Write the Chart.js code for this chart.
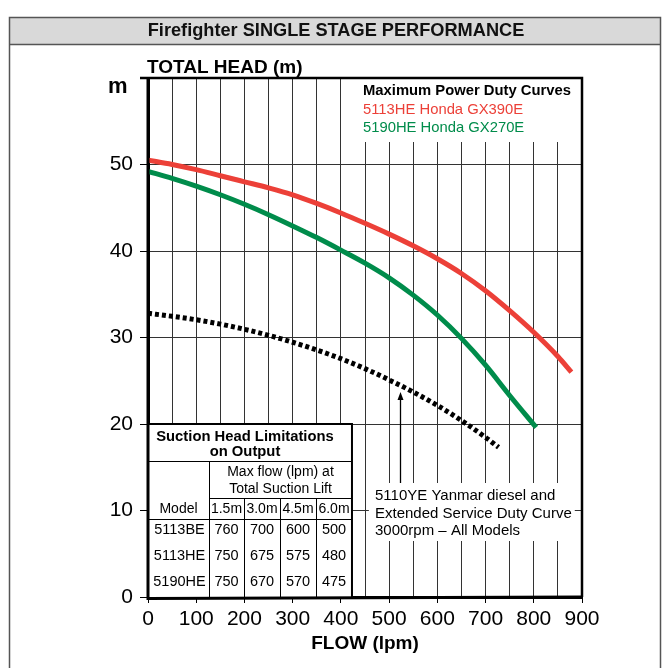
<!DOCTYPE html>
<html><head><meta charset="utf-8">
<script src="https://cdn.jsdelivr.net/npm/chart.js@4"></script>
<style>html,body{margin:0;padding:0;background:#fff}canvas{display:block}</style>
</head><body>
<canvas id="c" width="664" height="668"></canvas>
<script>
// ---------- data ----------
const chartTitle = 'Firefighter SINGLE STAGE PERFORMANCE';
const yAxisTitle = 'TOTAL HEAD (m)';
const yUnit = 'm';
const xAxisTitle = 'FLOW (lpm)';

const flowRed  = [0, 50, 100, 150, 200, 250, 300, 350, 400, 450, 500, 550, 600, 650, 700, 750, 800, 850, 878];
const headRed  = [50.5, 50.0, 49.4, 48.7, 48.0, 47.3, 46.5, 45.5, 44.4, 43.2, 41.95, 40.6, 39.1, 37.4, 35.4, 33.1, 30.6, 27.8, 26.0];

const flowGreen = [0, 50, 100, 150, 200, 250, 300, 350, 400, 450, 500, 550, 600, 650, 700, 750, 805];
const headGreen = [49.2, 48.4, 47.5, 46.5, 45.4, 44.2, 42.9, 41.55, 40.1, 38.6, 36.9, 34.9, 32.6, 29.9, 26.8, 23.3, 19.6];

const flowDiesel = [0, 50, 100, 150, 200, 250, 300, 350, 400, 450, 500, 550, 600, 650, 700, 727];
const headDiesel = [32.8, 32.45, 32.05, 31.55, 30.95, 30.25, 29.45, 28.55, 27.55, 26.4, 25.1, 23.7, 22.15, 20.4, 18.45, 17.3];

const legendTitle = 'Maximum Power Duty Curves';
const legendRed = '5113HE Honda GX390E';
const legendGreen = '5190HE Honda GX270E';
const dieselNote = ['5110YE Yanmar diesel and', 'Extended Service Duty Curve', '3000rpm \u2013 All Models'];
const dieselArrowFlow = 523;
const dieselArrowHead = 23.7;

const tableTitle = ['Suction Head Limitations', 'on Output'];
const tableSubTitle = ['Max flow (lpm) at', 'Total Suction Lift'];
const tableModelHeader = 'Model';
const tableLifts = ['1.5m', '3.0m', '4.5m', '6.0m'];
const tableModels = ['5113BE', '5113HE', '5190HE'];
const tableFlows = [[760, 700, 600, 500], [750, 675, 575, 480], [750, 670, 570, 475]];

// ---------- styling ----------
const FONT = "'Liberation Sans', Arial, Helvetica, sans-serif";
const RED = '#ec4038';
const GREEN = '#008c4b';
Chart.defaults.font.family = FONT;
Chart.defaults.color = '#000';

const toXY = (xs, ys) => xs.map((x, i) => ({x, y: ys[i]}));

const deco = {
  id: 'deco',
  beforeDraw(chart) {
    const c = chart.ctx;
    c.save();
    c.fillStyle = '#fff';
    c.fillRect(0, 0, chart.width, chart.height);
    // outer frame + title band
    c.fillStyle = '#d9d9d9';
    c.fillRect(9.5, 17.5, 651, 27);
    c.strokeStyle = '#555';
    c.lineWidth = 1.5;
    c.strokeRect(9.5, 17.5, 651, 700);
    c.beginPath(); c.moveTo(9.5, 44.5); c.lineTo(660.5, 44.5); c.stroke();
    c.fillStyle = '#111';
    c.font = 'bold 18.2px ' + FONT;
    c.textAlign = 'center'; c.textBaseline = 'middle';
    c.fillText(chartTitle, 336, 31);
    c.restore();
  },
  beforeDatasetsDraw(chart) {
    const c = chart.ctx, xs = chart.scales.x, ys = chart.scales.y;
    const ca = chart.chartArea;
    c.save();
    // legend box
    const lx = xs.getPixelForValue(405);
    c.fillStyle = '#fff';
    c.fillRect(lx, ca.top, ca.right - lx, 64);
    c.fillStyle = '#000';
    c.textAlign = 'left'; c.textBaseline = 'middle';
    c.font = 'bold 14.8px ' + FONT;
    c.fillText(legendTitle, 363, 91);
    c.font = '14.8px ' + FONT;
    c.fillStyle = RED; c.fillText(legendRed, 363, 110);
    c.fillStyle = GREEN; c.fillText(legendGreen, 363, 128);

    // diesel note box
    const nx0 = xs.getPixelForValue(458), nx1 = xs.getPixelForValue(885);
    const ny0 = 483, ny1 = 541;
    c.fillStyle = '#fff';
    c.fillRect(nx0, ny0, nx1 - nx0, ny1 - ny0);
    c.fillStyle = '#000';
    c.font = '15px ' + FONT;
    dieselNote.forEach((t, i) => c.fillText(t, 375, 496 + i * 17.5));
    // arrow
    const ax = Math.round(xs.getPixelForValue(dieselArrowFlow)) + 0.5;
    const ay = ys.getPixelForValue(dieselArrowHead);
    c.strokeStyle = '#000'; c.lineWidth = 1.3;
    c.beginPath(); c.moveTo(ax, ny0); c.lineTo(ax, ay + 6); c.stroke();
    c.beginPath(); c.moveTo(ax, ay); c.lineTo(ax - 3, ay + 8); c.lineTo(ax + 3, ay + 8); c.closePath(); c.fill();

    // table
    const L = ca.left, R = xs.getPixelForValue(423), T = ys.getPixelForValue(20), B = ca.bottom;
    c.fillStyle = '#fff';
    c.fillRect(L, T, R - L, B - T);
    c.strokeStyle = '#000';
    c.lineWidth = 2;
    c.beginPath(); c.moveTo(L, T); c.lineTo(R, T); c.lineTo(R, B); c.stroke();
    c.lineWidth = 1;
    const colX = [L + 61, L + 96, L + 132, L + 168, R];
    const hl = (y, x0, x1) => { c.beginPath(); c.moveTo(x0, Math.round(y) + 0.5); c.lineTo(x1, Math.round(y) + 0.5); c.stroke(); };
    const vl = (x, y0, y1) => { c.beginPath(); c.moveTo(Math.round(x) + 0.5, y0); c.lineTo(Math.round(x) + 0.5, y1); c.stroke(); };
    hl(T + 37, L, R);
    hl(T + 74, colX[0], R);
    hl(T + 95, L, R);
    vl(colX[0], T + 37, B);
    for (let i = 1; i < 4; i++) vl(colX[i], T + 74, B);
    c.fillStyle = '#000';
    c.textAlign = 'center';
    c.font = 'bold 14.8px ' + FONT;
    c.fillText(tableTitle[0], L + 97, T + 13);
    c.fillText(tableTitle[1], L + 97, T + 28);
    c.font = '14px ' + FONT;
    c.fillText(tableSubTitle[0], (colX[0] + R) / 2, T + 48);
    c.fillText(tableSubTitle[1], (colX[0] + R) / 2, T + 65);
    c.fillText(tableModelHeader, (L + colX[0]) / 2, T + 85);
    tableLifts.forEach((t, i) => c.fillText(t, (colX[i] + colX[i + 1]) / 2, T + 85));
    c.font = '14.5px ' + FONT;
    tableModels.forEach((m, r) => {
      const y = T + 106 + r * 26;
      c.fillText(m, (L + colX[0]) / 2 + 1, y);
      tableFlows[r].forEach((v, i) => c.fillText(String(v), (colX[i] + colX[i + 1]) / 2, y));
    });
    c.restore();
  },
  afterDatasetsDraw(chart) {
    const c = chart.ctx, ca = chart.chartArea;
    c.save();
    c.strokeStyle = '#000';
    c.lineWidth = 2.5;
    c.beginPath(); c.moveTo(ca.left - 8, ca.top); c.lineTo(ca.right, ca.top); c.lineTo(ca.right, ca.bottom); c.stroke();
    c.lineWidth = 3;
    c.beginPath(); c.moveTo(ca.left, ca.top); c.lineTo(ca.left, ca.bottom + 1.5); c.lineTo(ca.right + 1, ca.bottom + 1.5 - 1.5); c.stroke();
    c.fillStyle = '#000';
    c.textAlign = 'left'; c.textBaseline = 'alphabetic';
    c.font = 'bold 19px ' + FONT;
    c.fillText(yAxisTitle, 147, 73);
    c.font = 'bold 22px ' + FONT;
    c.fillText(yUnit, 108, 93);
    c.textAlign = 'center'; c.textBaseline = 'middle';
    c.font = 'bold 19px ' + FONT;
    c.fillText(xAxisTitle, (ca.left + ca.right) / 2, 644);
    c.restore();
  }
};

new Chart(document.getElementById('c'), {
  type: 'line',
  data: {
    datasets: [
      { label: legendRed, data: toXY(flowRed, headRed), borderColor: RED, borderWidth: 5, pointRadius: 0, cubicInterpolationMode: 'monotone', borderCapStyle: 'butt' },
      { label: legendGreen, data: toXY(flowGreen, headGreen), borderColor: GREEN, borderWidth: 5, pointRadius: 0, cubicInterpolationMode: 'monotone', borderCapStyle: 'butt' },
      { label: dieselNote.join(' '), data: toXY(flowDiesel, headDiesel), borderColor: '#000', borderWidth: 5, borderDash: [4, 3], pointRadius: 0, cubicInterpolationMode: 'monotone', borderCapStyle: 'butt' }
    ]
  },
  options: {
    responsive: false,
    devicePixelRatio: 1,
    animation: false,
    layout: { padding: { left: 0, top: 78, right: 82, bottom: 0 } },
    plugins: { legend: { display: false }, tooltip: { enabled: false }, title: { display: false } },
    scales: {
      x: {
        type: 'linear', min: 0, max: 900,
        afterFit: s => { s.height = 71; },
        ticks: { stepSize: 50, autoSkip: false, maxRotation: 0, padding: 4, font: { size: 21 }, color: '#000',
          callback: v => (v % 100 === 0 ? String(v) : '') },
        grid: { color: '#333', lineWidth: 1, tickLength: 6,
          tickColor: ctx => (ctx.tick && ctx.tick.value % 100 === 0 ? '#000' : 'rgba(0,0,0,0)') },
        border: { color: '#000', width: 3 }
      },
      y: {
        min: 0, max: 60,
        afterFit: s => { s.width = 148; },
        ticks: { stepSize: 10, padding: 7, font: { size: 21 }, color: '#000',
          callback: v => (v === 60 ? '' : String(v)) },
        grid: { color: '#333', lineWidth: 1, tickLength: 8, tickColor: '#000' },
        border: { color: '#000', width: 3 }
      }
    }
  },
  plugins: [deco]
});
</script>
</body></html>
